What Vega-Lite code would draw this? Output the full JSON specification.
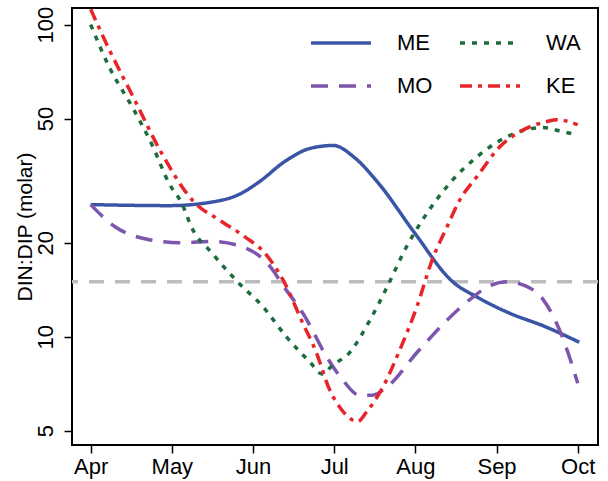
{
  "$schema": "https://vega.github.io/schema/vega-lite/v6.json",
  "autosize": "none",
  "width": 526,
  "height": 437,
  "padding": {"left": 72, "top": 8, "right": 10, "bottom": 36},
  "background": "white",
  "config": {
    "font": "Liberation Sans",
    "view": {"stroke": "black", "strokeWidth": 2},
    "axis": {"grid": false, "domain": false, "tickColor": "black", "tickWidth": 1.5, "tickSize": 8, "labelColor": "black", "labelFontSize": 22, "titleColor": "black", "titleFontWeight": "normal", "titleFontSize": 21}
  },
  "datasets": {
    "series": [
      {"site": "ME", "m": 4.0, "v": 26.5}, {"site": "ME", "m": 4.97, "v": 26.3}, {"site": "ME", "m": 5.49, "v": 27.0}, {"site": "ME", "m": 5.82, "v": 28.5}, {"site": "ME", "m": 6.08, "v": 31.4}, {"site": "ME", "m": 6.39, "v": 36.4}, {"site": "ME", "m": 6.70, "v": 40.1}, {"site": "ME", "m": 6.99, "v": 41.0}, {"site": "ME", "m": 7.25, "v": 37.5}, {"site": "ME", "m": 7.56, "v": 30.7}, {"site": "ME", "m": 7.98, "v": 21.7}, {"site": "ME", "m": 8.46, "v": 15.0}, {"site": "ME", "m": 8.76, "v": 13.4}, {"site": "ME", "m": 9.16, "v": 11.9}, {"site": "ME", "m": 9.59, "v": 10.8}, {"site": "ME", "m": 10.02, "v": 9.6},
      {"site": "MO", "m": 4.0, "v": 26.5}, {"site": "MO", "m": 4.30, "v": 22.5}, {"site": "MO", "m": 4.71, "v": 20.5}, {"site": "MO", "m": 5.12, "v": 20.0}, {"site": "MO", "m": 5.49, "v": 20.2}, {"site": "MO", "m": 5.87, "v": 19.4}, {"site": "MO", "m": 6.21, "v": 16.8}, {"site": "MO", "m": 6.37, "v": 14.6}, {"site": "MO", "m": 6.64, "v": 11.6}, {"site": "MO", "m": 6.91, "v": 8.6}, {"site": "MO", "m": 7.10, "v": 7.3}, {"site": "MO", "m": 7.31, "v": 6.5}, {"site": "MO", "m": 7.47, "v": 6.5}, {"site": "MO", "m": 7.65, "v": 6.9}, {"site": "MO", "m": 8.02, "v": 8.9}, {"site": "MO", "m": 8.39, "v": 11.3}, {"site": "MO", "m": 8.71, "v": 13.4}, {"site": "MO", "m": 8.88, "v": 14.4}, {"site": "MO", "m": 9.13, "v": 15.0}, {"site": "MO", "m": 9.37, "v": 14.5}, {"site": "MO", "m": 9.57, "v": 13.2}, {"site": "MO", "m": 9.81, "v": 10.0}, {"site": "MO", "m": 10.0, "v": 7.1},
      {"site": "WA", "m": 4.0, "v": 100}, {"site": "WA", "m": 4.23, "v": 73}, {"site": "WA", "m": 4.52, "v": 54}, {"site": "WA", "m": 4.76, "v": 41}, {"site": "WA", "m": 4.96, "v": 31.2}, {"site": "WA", "m": 5.13, "v": 26.5}, {"site": "WA", "m": 5.24, "v": 22.5}, {"site": "WA", "m": 5.49, "v": 18.6}, {"site": "WA", "m": 5.82, "v": 14.9}, {"site": "WA", "m": 6.12, "v": 12.5}, {"site": "WA", "m": 6.41, "v": 10.0}, {"site": "WA", "m": 6.70, "v": 8.3}, {"site": "WA", "m": 6.85, "v": 7.6}, {"site": "WA", "m": 6.98, "v": 8.1}, {"site": "WA", "m": 7.19, "v": 8.9}, {"site": "WA", "m": 7.44, "v": 11.3}, {"site": "WA", "m": 7.65, "v": 14.4}, {"site": "WA", "m": 7.89, "v": 19.4}, {"site": "WA", "m": 8.09, "v": 23.7}, {"site": "WA", "m": 8.46, "v": 31.8}, {"site": "WA", "m": 8.76, "v": 37.7}, {"site": "WA", "m": 9.0, "v": 41.9}, {"site": "WA", "m": 9.25, "v": 45.1}, {"site": "WA", "m": 9.57, "v": 46.8}, {"site": "WA", "m": 9.81, "v": 45.4}, {"site": "WA", "m": 10.0, "v": 44.3},
      {"site": "KE", "m": 4.0, "v": 112}, {"site": "KE", "m": 4.23, "v": 83}, {"site": "KE", "m": 4.54, "v": 57.5}, {"site": "KE", "m": 4.87, "v": 38.9}, {"site": "KE", "m": 5.28, "v": 26.9}, {"site": "KE", "m": 5.58, "v": 23.7}, {"site": "KE", "m": 5.90, "v": 20.9}, {"site": "KE", "m": 6.14, "v": 18.6}, {"site": "KE", "m": 6.37, "v": 15.2}, {"site": "KE", "m": 6.61, "v": 11.1}, {"site": "KE", "m": 6.78, "v": 8.9}, {"site": "KE", "m": 6.94, "v": 6.8}, {"site": "KE", "m": 7.10, "v": 5.8}, {"site": "KE", "m": 7.29, "v": 5.35}, {"site": "KE", "m": 7.40, "v": 5.75}, {"site": "KE", "m": 7.60, "v": 6.9}, {"site": "KE", "m": 7.81, "v": 9.1}, {"site": "KE", "m": 8.02, "v": 12.5}, {"site": "KE", "m": 8.21, "v": 17.7}, {"site": "KE", "m": 8.39, "v": 22.5}, {"site": "KE", "m": 8.55, "v": 27.5}, {"site": "KE", "m": 8.76, "v": 32.6}, {"site": "KE", "m": 9.04, "v": 40.6}, {"site": "KE", "m": 9.29, "v": 45.4}, {"site": "KE", "m": 9.62, "v": 48.9}, {"site": "KE", "m": 9.74, "v": 49.6}, {"site": "KE", "m": 10.0, "v": 47.8}
    ],
    "ref": [{"y": 15}]
  },
  "layer": [
    {
      "data": {"name": "ref"},
      "mark": {"type": "rule", "color": "#bdbdbd", "strokeWidth": 3.5, "strokeDash": [15, 11]},
      "encoding": {"y": {"field": "y", "type": "quantitative", "scale": {"type": "log", "domain": [4.5, 113], "nice": false}}}
    },
    {
      "data": {"name": "series"},
      "mark": {"type": "line", "strokeWidth": 3.5, "interpolate": "monotone", "clip": true},
      "encoding": {
        "x": {"field": "m", "type": "quantitative", "scale": {"domain": [3.77, 10.25], "nice": false, "zero": false},
          "axis": {"title": null, "values": [4, 5, 6, 7, 8, 9, 10], "labelExpr": "['Apr','May','Jun','Jul','Aug','Sep','Oct'][datum.value-4]", "labelPadding": 3}},
        "y": {"field": "v", "type": "quantitative", "scale": {"type": "log", "domain": [4.5, 113], "nice": false},
          "axis": {"title": "DIN:DIP (molar)", "values": [5, 10, 20, 50, 100], "labelAngle": 270, "labelAlign": "center", "labelBaseline": "bottom", "labelPadding": 7, "titlePadding": -1}},
        "color": {"field": "site", "type": "nominal", "scale": {"domain": ["ME", "MO", "WA", "KE"], "range": ["#3a55a5", "#7d55ad", "#1b6e3c", "#e8242b"]},
          "legend": {"title": null, "orient": "none", "legendX": 237, "legendY": 3, "columns": 2, "symbolType": "stroke", "symbolSize": 3600, "symbolStrokeWidth": 3.5, "labelFontSize": 22, "labelOffset": 24, "columnPadding": 20, "rowPadding": -20, "labelColor": "black"}},
        "strokeDash": {"field": "site", "type": "nominal", "scale": {"domain": ["ME", "MO", "WA", "KE"], "range": [[1, 0], [17, 11], [5, 7], [12, 6, 4, 6]]}}
      }
    }
  ]
}
